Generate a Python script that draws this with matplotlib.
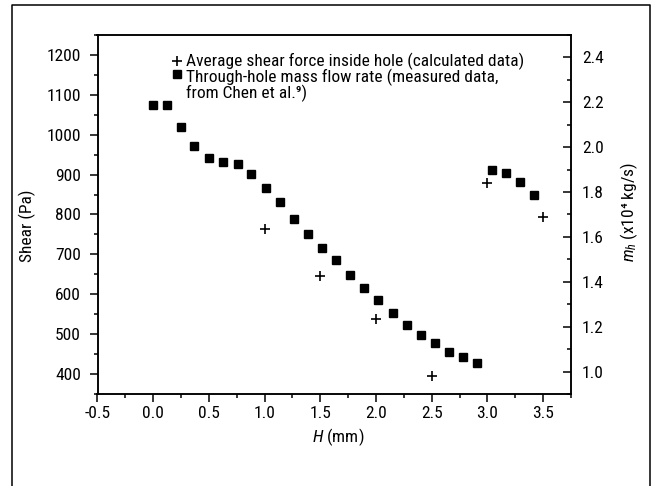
import matplotlib
matplotlib.use("Agg")
import matplotlib.pyplot as plt
from matplotlib import font_manager
from matplotlib.lines import Line2D
from matplotlib.ticker import MultipleLocator, FormatStrFormatter

# condensed sans, close to the Helvetica Condensed of the original
names = set(f.name for f in font_manager.fontManager.ttflist)
main_font = "Roboto Condensed" if "Roboto Condensed" in names else "Liberation Sans"
plt.rcParams["font.family"] = [main_font, "DejaVu Sans"]
plt.rcParams["axes.unicode_minus"] = False
plt.rcParams["mathtext.fontset"] = "custom"
plt.rcParams["mathtext.rm"] = main_font
plt.rcParams["mathtext.it"] = main_font + ":italic"

# average shear force inside hole (Pa)
shear_h = [1.0, 1.5, 2.0, 2.5, 3.0, 3.5]
shear_pa = [764, 646, 539, 394, 879, 794]

# through-hole mass flow rate (x10^4 kg/s)
flow_h = [0.0, 0.12, 0.245, 0.37, 0.5, 0.625, 0.757, 0.882, 1.008, 1.134,
          1.26, 1.388, 1.513, 1.642, 1.768, 1.896, 2.022, 2.148, 2.274, 2.4,
          2.525, 2.657, 2.782, 2.91, 3.04, 3.17, 3.29, 3.42]
flow_m = [2.187, 2.19, 2.088, 2.006, 1.95, 1.932, 1.923, 1.880, 1.817, 1.755,
          1.679, 1.612, 1.549, 1.495, 1.431, 1.371, 1.318, 1.260, 1.207, 1.165,
          1.127, 1.088, 1.065, 1.040, 1.900, 1.883, 1.847, 1.785]

W, H = 652, 486
fig = plt.figure(figsize=(W / 100, H / 100), dpi=100)
ax = fig.add_axes([97.5 / W, 1 - 394 / H, (571 - 97.5) / W, (394 - 35) / H])
ax2 = ax.twinx()

ax.plot(shear_h, shear_pa, linestyle="none", marker="+", markersize=7,
        markeredgewidth=1.2, color="black")
ax2.plot(flow_h, flow_m, linestyle="none", marker="s", markersize=5.6,
         color="black")

ax.set_xlim(-0.5, 3.75)
ax.set_ylim(350, 1250)
ax2.set_ylim(0.9, 2.5)

ax.xaxis.set_major_locator(MultipleLocator(0.5))
ax.xaxis.set_minor_locator(MultipleLocator(0.25))
ax.xaxis.set_major_formatter(FormatStrFormatter("%.1f"))
ax.yaxis.set_major_locator(MultipleLocator(100))
ax.yaxis.set_minor_locator(MultipleLocator(50))
ax2.yaxis.set_major_locator(MultipleLocator(0.2))
ax2.yaxis.set_minor_locator(MultipleLocator(0.1))
ax2.yaxis.set_major_formatter(FormatStrFormatter("%.1f"))

for a in (ax, ax2):
    for s in a.spines.values():
        s.set_linewidth(1.1)
ax.tick_params(axis="both", which="major", direction="out", length=5.5,
               width=1.1, labelsize=12.5)
ax.tick_params(axis="both", which="minor", direction="out", length=3.2, width=1.1)
ax.tick_params(axis="y", which="major", pad=6.5)
ax.tick_params(axis="x", which="major", pad=3)
ax2.tick_params(axis="y", which="major", direction="in", length=5.5, width=1.1,
                labelsize=12.5, pad=8)
ax2.tick_params(axis="y", which="minor", direction="in", length=3.2, width=1.1)

ax.text(0.508, -0.12, "$\\it{H}$ (mm)", transform=ax.transAxes, ha="center",
        va="center", fontsize=12.5)
ax.text(-0.149, 0.47, "Shear (Pa)", transform=ax.transAxes, ha="center",
        va="center", rotation=90, fontsize=12.5)
ax.text(1.1225, 0.507, "$m_h$ (x10\u2074 kg/s)", transform=ax.transAxes,
        ha="center", va="center", rotation=90, fontsize=12.5)

# legend drawn by hand so the square sits on the first line of its label
fig.add_artist(Line2D([177 / W], [1 - 61.5 / H], marker="+", markersize=6.5,
                      markeredgewidth=1.2, color="black",
                      transform=fig.transFigure))
fig.add_artist(Line2D([176.5 / W], [1 - 74 / H], marker="s", markersize=5.6,
                      color="black", transform=fig.transFigure))
fig.text(186 / W, 1 - 61 / H, "Average shear force inside hole (calculated data)",
         ha="left", va="center", fontsize=12.5)
fig.text(186 / W, 1 - 68.5 / H,
         "Through-hole mass flow rate (measured data,\nfrom Chen et al.\u2079)",
         ha="left", va="top", fontsize=12.5, linespacing=0.95)

# outer frame (open at the bottom)
fr = dict(color="black", linewidth=1.1, transform=fig.transFigure)
fig.add_artist(Line2D([12 / W, 12 / W, 650 / W, 650 / W],
                      [0, 1 - 5 / H, 1 - 5 / H, 0], **fr))

fig.savefig("out.png", dpi=100)
